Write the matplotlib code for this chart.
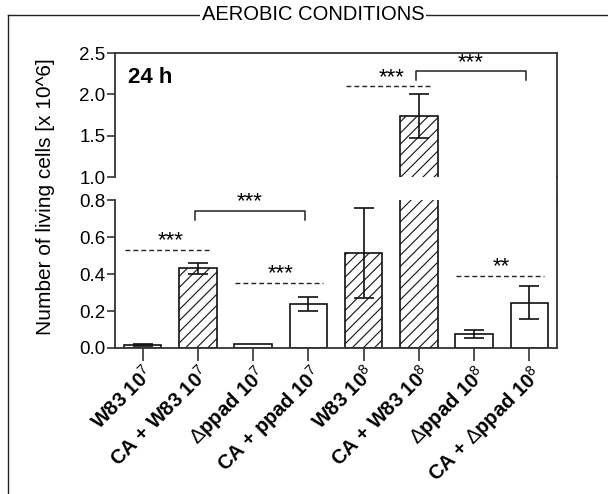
#!/usr/bin/env python3

import matplotlib
matplotlib.use("Agg")
import matplotlib.pyplot as plt
from matplotlib.lines import Line2D

plt.rcParams["font.family"] = ["Liberation Sans", "DejaVu Sans"]
plt.rcParams["mathtext.fontset"] = "custom"
plt.rcParams["mathtext.rm"] = "Liberation Sans"
plt.rcParams["mathtext.bf"] = "Liberation Sans:bold"
plt.rcParams["mathtext.default"] = "rm"
plt.rcParams["hatch.linewidth"] = 0.8

# Data
labels = [r"W83 10$^7$", r"CA + W83 10$^7$", r"$\Delta$ppad 10$^7$", r"CA + ppad 10$^7$",
          r"W83 10$^8$", r"CA + W83 10$^8$", r"$\Delta$ppad 10$^8$", r"CA + $\Delta$ppad 10$^8$"]
values = [0.015, 0.43, 0.02, 0.238, 0.515, 1.74, 0.076, 0.245]
errors = [0.005, 0.03, 0.0, 0.038, 0.243, 0.27, 0.02, 0.088]
hatched = [False, True, False, False, True, True, False, False]

# significance marks: (first bar, y of line, stars)
dashed_marks = [(0, 0.53, "***"), (2, 0.351, "***"), (6, 0.391, "**")]
dashed_marks_top = [(4, 2.10, "***")]
# brackets: (left bar, right bar, y, stars)
bracket_marks = [(1, 3, 0.742, "***")]
bracket_marks_top = [(5, 7, 2.28, "***")]

W, H = 608, 494
fig = plt.figure(figsize=(W / 100, H / 100), dpi=100)

def fx(px):
    return px / W

def fy(py):
    return 1 - py / H

left, right = 115, 557
ax_top = fig.add_axes([fx(left), fy(177), fx(right - left), fy(53) - fy(177)])
ax_bot = fig.add_axes([fx(left), fy(348), fx(right - left), fy(200) - fy(348)])

spine_col = "#333333"
x = list(range(len(values)))

for ax in (ax_top, ax_bot):
    for i, (v, e, h) in enumerate(zip(values, errors, hatched)):
        ax.bar(i, v, width=0.68, facecolor="white", edgecolor="#111111",
               linewidth=1.2, hatch="///" if h else None, zorder=2)
        if e > 0:
            ax.errorbar(i, v, yerr=e, fmt="none", ecolor="#111111",
                        elinewidth=1.2, capsize=7, capthick=1.2, zorder=3)
    ax.set_xlim(-0.5, 7.5)
    for s in ax.spines.values():
        s.set_color(spine_col)
        s.set_linewidth(1.3)
    ax.tick_params(axis="y", direction="out", length=6, width=1.2,
                   color=spine_col, labelsize=13.5, pad=1)

ax_top.set_ylim(1.0, 2.5)
ax_top.set_yticks([1.0, 1.5, 2.0, 2.5])
ax_top.set_yticklabels(["1.0", "1.5", "2.0", "2.5"])
ax_top.spines["bottom"].set_visible(False)
ax_top.tick_params(axis="x", bottom=False, labelbottom=False)

ax_bot.set_ylim(0.0, 0.8)
ax_bot.set_yticks([0.0, 0.2, 0.4, 0.6, 0.8])
ax_bot.set_yticklabels(["0.0", "0.2", "0.4", "0.6", "0.8"])
ax_bot.spines["top"].set_visible(False)
ax_bot.set_xticks(x)
ax_bot.set_xticklabels(labels, rotation=45, ha="right", rotation_mode="anchor",
                       fontsize=14.5, fontweight="bold")
ax_bot.tick_params(axis="x", direction="out", length=9, width=1.2,
                   color=spine_col, pad=1)

# right spine continues through the break
fig.add_artist(Line2D([fx(right), fx(right)], [fy(200), fy(177)],
                      color=spine_col, linewidth=1.3, transform=fig.transFigure))

dash = (0, (3.5, 2.2))

def add_dashed(ax, marks, star_off):
    for i, y, stars in marks:
        ax.plot([i - 0.32, i + 1.26], [y, y], color="#222222", linewidth=1.0,
                linestyle=dash, zorder=4, clip_on=False)
        ax.text(i + 0.5, y + star_off, stars, ha="center", va="center",
                fontsize=16, zorder=4)

def add_bracket(ax, marks, leg, star_off):
    for a, b, y, stars in marks:
        ax.plot([a - 0.06, a - 0.06, b - 0.06, b - 0.06], [y - leg, y, y, y - leg],
                color="#222222", linewidth=1.1, zorder=4, clip_on=False)
        ax.text((a + b) / 2 - 0.06, y + star_off, stars, ha="center", va="center",
                fontsize=16, zorder=4)

add_dashed(ax_bot, dashed_marks, 0.05)
add_dashed(ax_top, dashed_marks_top, 0.1)
add_bracket(ax_bot, bracket_marks, 0.05, 0.05)
add_bracket(ax_top, bracket_marks_top, 0.11, 0.1)

ax_top.text(0.03, 0.80, "24 h", transform=ax_top.transAxes, fontsize=16,
            fontweight="bold", ha="left", va="center")

fig.text(fx(46), fy(197), "Number of living cells [x 10^6]", rotation=90,
         ha="center", va="center", fontsize=15)

# outer frame with title in the top line
frame_col = "#222222"
fig.add_artist(Line2D([fx(8), fx(8)], [0, fy(15)], color=frame_col,
                      linewidth=1.0, transform=fig.transFigure))
fig.add_artist(Line2D([fx(8), fx(W)], [fy(15), fy(15)], color=frame_col,
                      linewidth=1.0, transform=fig.transFigure))
fig.text(fx(202), fy(15), "AEROBIC CONDITIONS", ha="left", va="center",
         fontsize=14.5, bbox=dict(facecolor="white", edgecolor="none",
                                  boxstyle="square,pad=0.08"))

fig.savefig("out.png", dpi=100)
